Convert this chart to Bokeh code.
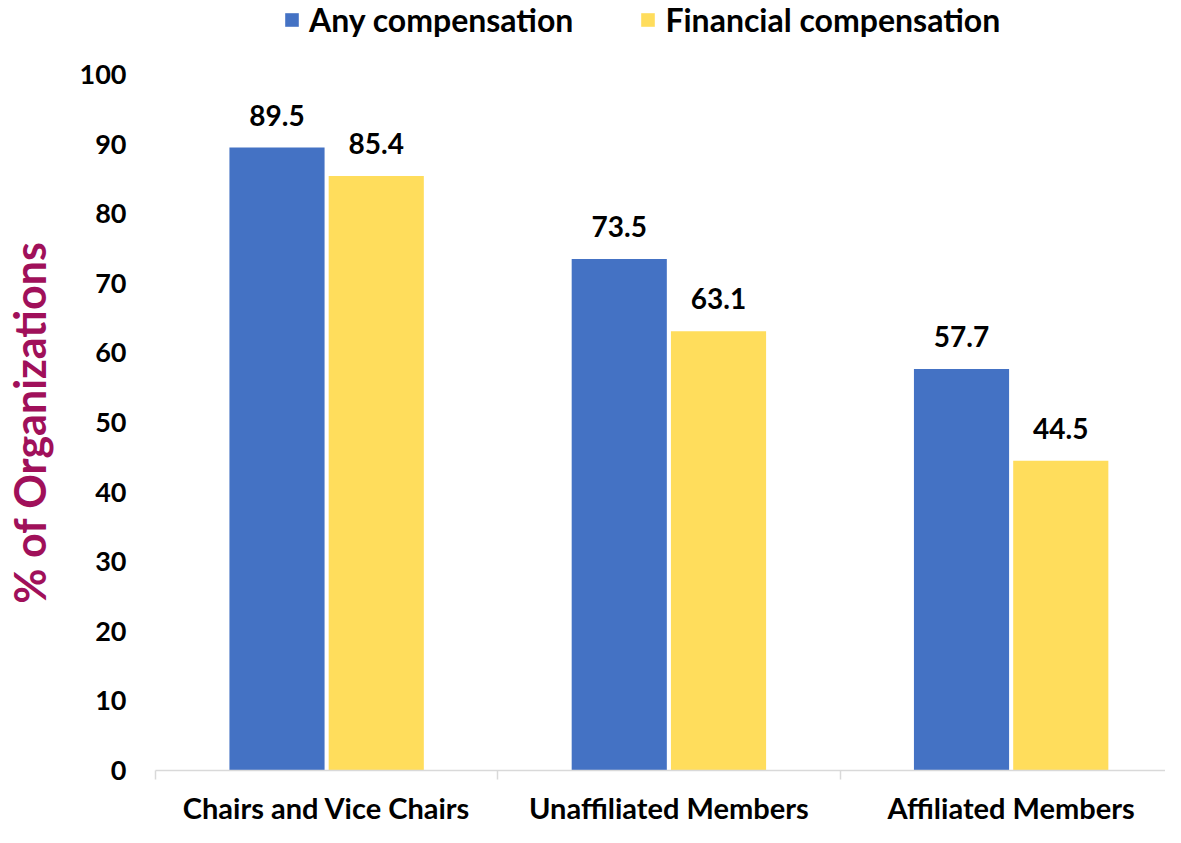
from bokeh.plotting import figure
from bokeh.layouts import column
from bokeh.models import ColumnDataSource, FixedTicker, Range1d, Legend, LegendItem, LabelSet
from bokeh.core.properties import value
from bokeh.embed import file_html
from bokeh.resources import INLINE

categories = ["Chairs and Vice Chairs", "Unaffiliated Members", "Affiliated Members"]
any_comp = [89.5, 73.5, 57.7]
fin_comp = [85.4, 63.1, 44.5]
series_names = ["Any compensation", "Financial compensation"]
y_ticks = [0, 10, 20, 30, 40, 50, 60, 70, 80, 90, 100]

FONT = "Lato"
BLUE = "#4472C4"
YELLOW = "#FFDD5C"

centers = [i + 0.5 for i in range(len(categories))]
off = 0.145
bw = 0.278

src_a = ColumnDataSource(dict(x=[c - off for c in centers], top=any_comp,
                              lab=[f"{v:.1f}" for v in any_comp]))
src_f = ColumnDataSource(dict(x=[c + off for c in centers], top=fin_comp,
                              lab=[f"{v:.1f}" for v in fin_comp]))

# ---- legend strip (same series, view range kept away from the bars) -------
lf = figure(width=1165, height=52, output_backend="svg", toolbar_location=None,
            x_axis_type=None, y_axis_type=None,
            x_range=Range1d(100, 101), y_range=Range1d(100, 101),
            min_border_left=147, min_border_right=0, min_border_top=0, min_border_bottom=0)
lf.outline_line_color = None
lf.grid.visible = False
la = lf.vbar(x="x", top="top", width=bw, source=src_a, fill_color=BLUE, line_color=None)
lb = lf.vbar(x="x", top="top", width=bw, source=src_f, fill_color=YELLOW, line_color=None)
legend = Legend(items=[LegendItem(label=series_names[0], renderers=[la]),
                       LegendItem(label=series_names[1], renderers=[lb])],
                orientation="horizontal", location=(128, 13),
                glyph_width=17, glyph_height=17, label_standoff=9, spacing=66,
                padding=0, margin=0, border_line_color=None, background_fill_alpha=0,
                label_text_font=FONT, label_text_font_style="bold",
                label_text_font_size="32px", label_text_color="black", label_height=17)
lf.add_layout(legend, "center")

# ---- main chart -----------------------------------------------------------
p = figure(width=1165, height=775, output_backend="svg", toolbar_location=None,
           x_range=Range1d(0, 2.951), y_range=Range1d(0, 100),
           min_border_left=147, min_border_right=0, min_border_top=22, min_border_bottom=0)
p.outline_line_color = None
p.xgrid.visible = False
p.ygrid.visible = False
p.background_fill_color = "white"
p.border_fill_color = "white"

p.vbar(x="x", top="top", width=bw, source=src_a, fill_color=BLUE, line_color=None)
p.vbar(x="x", top="top", width=bw, source=src_f, fill_color=YELLOW, line_color=None)

for s in (src_a, src_f):
    p.add_layout(LabelSet(x="x", y="top", text="lab", source=s, text_align="center",
                          text_baseline="alphabetic", y_offset=22, text_font=value(FONT),
                          text_font_style="bold", text_font_size="28px", text_color="black"))

# x axis
p.xaxis.ticker = FixedTicker(ticks=centers, minor_ticks=[0, 1, 2, 3])
p.xaxis.major_label_overrides = {c: n for c, n in zip(centers, categories)}
p.xaxis.major_tick_line_color = None
p.xaxis.major_tick_out = 0
p.xaxis.major_tick_in = 0
p.xaxis.minor_tick_line_color = "#D9D9D9"
p.xaxis.minor_tick_line_width = 1.5
p.xaxis.minor_tick_out = 9
p.xaxis.minor_tick_in = 0
p.xaxis.axis_line_color = "#D9D9D9"
p.xaxis.axis_line_width = 1.5
p.xaxis.major_label_text_font = FONT
p.xaxis.major_label_text_font_style = "bold"
p.xaxis.major_label_text_font_size = "29px"
p.xaxis.major_label_text_line_height = 0.9
p.xaxis.major_label_text_color = "black"
p.xaxis.major_label_standoff = 10
p.xaxis.axis_label_standoff = 0

# y axis
p.yaxis.ticker = FixedTicker(ticks=y_ticks)
p.yaxis.axis_line_color = None
p.yaxis.major_tick_line_color = None
p.yaxis.major_tick_out = 0
p.yaxis.major_tick_in = 0
p.yaxis.minor_tick_line_color = None
p.yaxis.major_label_text_font = FONT
p.yaxis.major_label_text_font_style = "bold"
p.yaxis.major_label_text_font_size = "27px"
p.yaxis.major_label_text_color = "black"
p.yaxis.major_label_standoff = 29
p.yaxis.axis_label = "% of Organizations"
p.yaxis.axis_label_text_font = FONT
p.yaxis.axis_label_text_font_style = "bold"
p.yaxis.axis_label_text_font_size = "43px"
p.yaxis.axis_label_text_color = "#A0105A"
p.yaxis.axis_label_standoff = 22

layout = column(lf, p, spacing=0)
open("out.html", "w").write(file_html(layout, INLINE))
